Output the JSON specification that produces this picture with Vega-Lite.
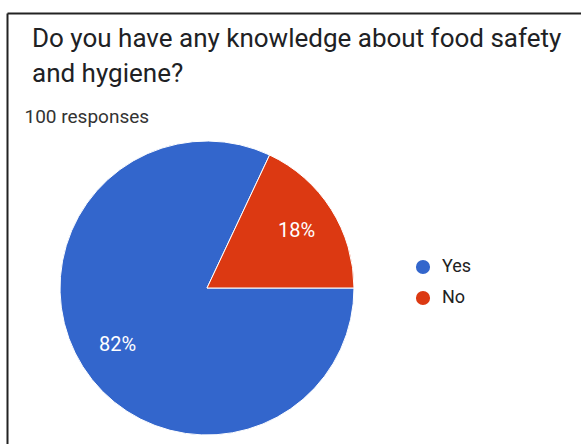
{
  "$schema": "https://vega.github.io/schema/vega-lite/v6.json",
  "autosize": {"type": "none"},
  "padding": {"left": 7, "top": 13, "right": 174, "bottom": -119},
  "width": 400,
  "height": 550,
  "background": "white",
  "title": {
    "text": ["Do you have any knowledge about food safety", "and hygiene?"],
    "anchor": "start",
    "frame": "group",
    "offset": -74,
    "dx": 25,
    "font": "Roboto",
    "fontSize": 26,
    "fontWeight": "normal",
    "color": "#202124",
    "lineHeight": 35.5
  },
  "data": {
    "values": [
      {"answer": "Yes", "share": 0.82},
      {"answer": "No", "share": 0.18}
    ]
  },
  "config": {
    "view": {"stroke": null},
    "font": "Roboto"
  },
  "layer": [
    {
      "mark": {"type": "point", "opacity": 0},
      "encoding": {
        "x": {
          "field": "share",
          "type": "quantitative",
          "scale": {"range": [0, 574], "zero": true},
          "axis": {
            "orient": "top",
            "grid": false,
            "ticks": false,
            "labels": false,
            "domainColor": "#222222",
            "domainWidth": 2,
            "title": "100 responses",
            "titleX": 17,
            "titleY": 109,
            "titleAlign": "left",
            "titleAnchor": "start",
            "titleBaseline": "alphabetic",
            "titleFontSize": 19,
            "titleFontWeight": "normal",
            "titleColor": "#333333",
            "titleFont": "Roboto"
          }
        },
        "y": {
          "field": "share",
          "type": "quantitative",
          "axis": {
            "orient": "left",
            "grid": false,
            "ticks": false,
            "labels": false,
            "domainColor": "#222222",
            "domainWidth": 2,
            "title": null
          }
        }
      }
    },
    {
      "mark": {"type": "arc", "outerRadius": 147, "stroke": "white", "strokeWidth": 1},
      "encoding": {
        "theta": {
          "field": "share",
          "type": "quantitative",
          "stack": true,
          "scale": {"range": [1.5707963, 7.8539816]}
        },
        "order": {"field": "share", "sort": "descending"},
        "color": {
          "field": "answer",
          "type": "nominal",
          "scale": {"domain": ["Yes", "No"], "range": ["#3366CC", "#DC3912"]},
          "legend": {
            "orient": "none",
            "legendX": 407,
            "legendY": 245,
            "title": null,
            "symbolType": "circle",
            "symbolSize": 200,
            "symbolStrokeWidth": 0,
            "symbolOpacity": 1,
            "labelFontSize": 18,
            "labelFont": "Roboto",
            "labelColor": "#222222",
            "labelOffset": 10,
            "rowPadding": 13,
            "padding": 0
          }
        }
      }
    },
    {
      "mark": {"type": "text", "radius": 106, "fill": "white", "fontSize": 20, "font": "Roboto"},
      "encoding": {
        "theta": {"field": "share", "type": "quantitative", "stack": true},
        "order": {"field": "share", "sort": "descending"},
        "text": {"field": "share", "type": "quantitative", "format": ".0%"}
      }
    }
  ]
}
